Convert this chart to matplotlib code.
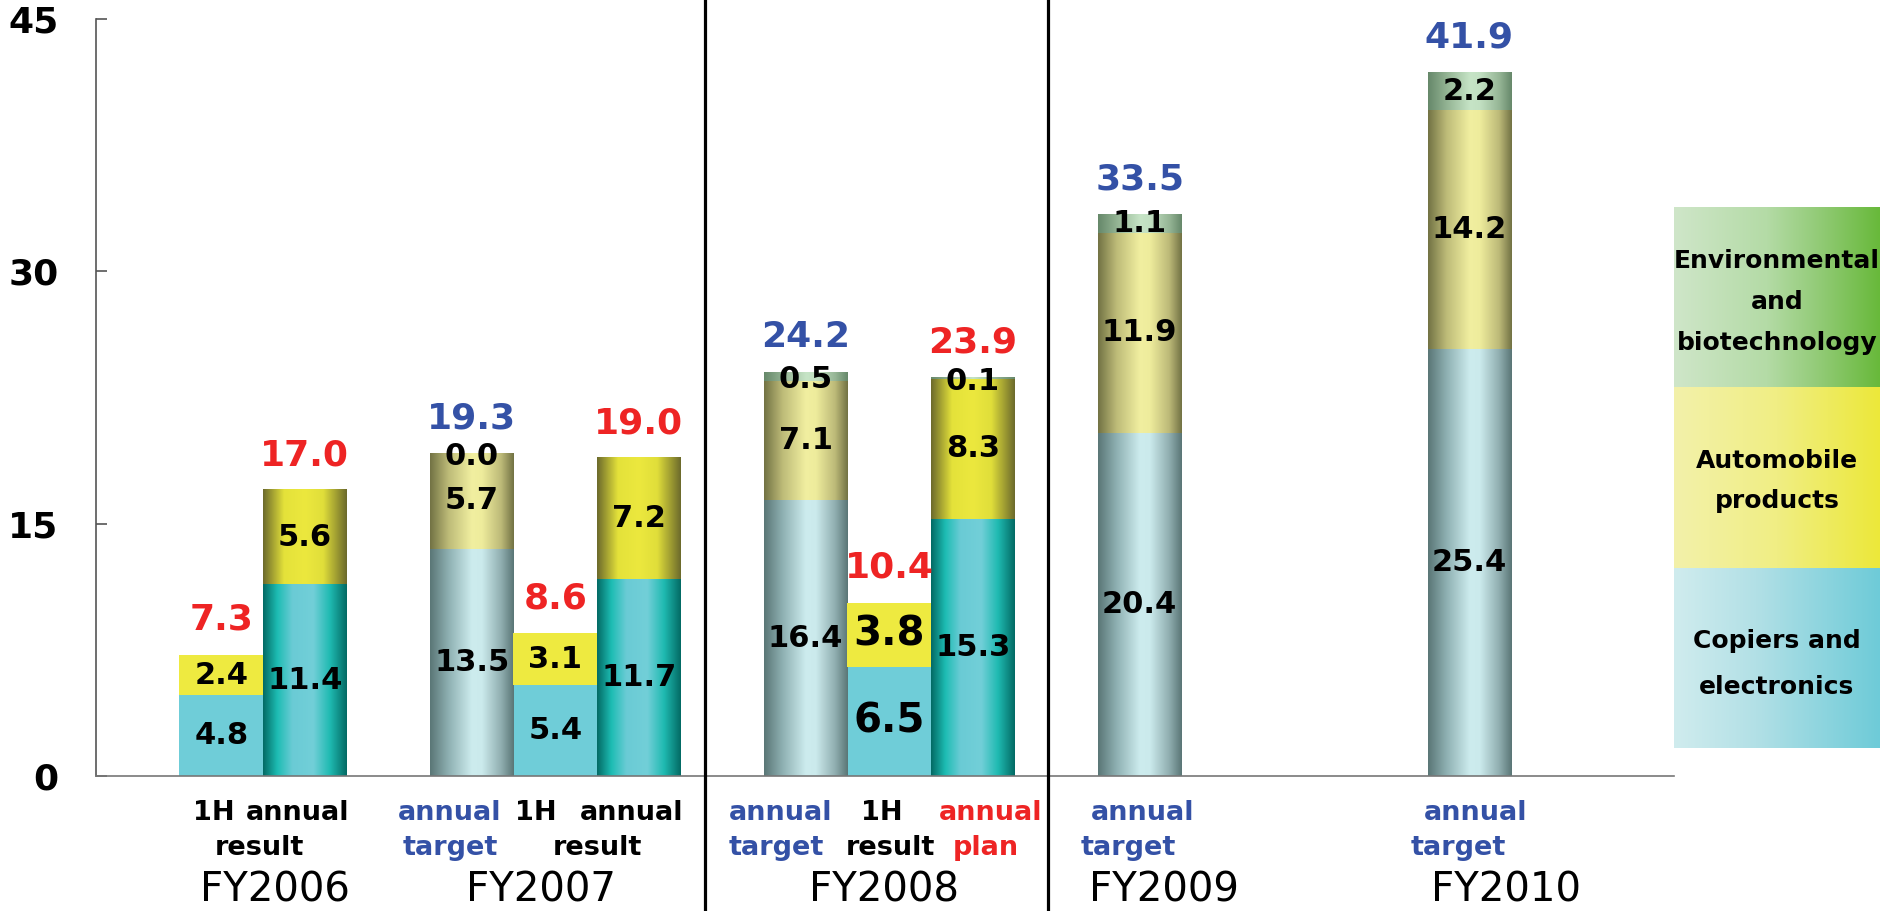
import numpy as np
import matplotlib
matplotlib.use("Agg")
import matplotlib.pyplot as plt
from matplotlib.colors import LinearSegmentedColormap
from matplotlib.transforms import blended_transform_factory

# Sales by business segment (billions of yen)
copiers = [4.8, 11.4, 13.5, 5.4, 11.7, 16.4, 6.5, 15.3, 20.4, 25.4]
automobile = [2.4, 5.6, 5.7, 3.1, 7.2, 7.1, 3.8, 8.3, 11.9, 14.2]
environment = [np.nan, np.nan, 0.0, np.nan, np.nan, 0.5, np.nan, 0.1, 1.1, 2.2]
totals = [7.3, 17.0, 19.3, 8.6, 19.0, 24.2, 10.4, 23.9, 33.5, 41.9]
kinds = ["1H", "result", "target", "1H", "result", "target", "1H", "plan", "target", "target"]
fiscal_years = ["FY2006", "FY2007", "FY2008", "FY2009", "FY2010"]
segment_names = [["Copiers and", "electronics"],
                 ["Automobile", "products"],
                 ["Environmental", "and", "biotechnology"]]
yticks = [0, 15, 30, 45]

# ---- layout -------------------------------------------------------------
W, H = 1882, 911
bar_x = [1.5, 2.5, 4.5, 5.5, 6.5, 8.5, 9.5, 10.5, 12.5, 16.45]
fy_x = [2.14, 5.33, 9.44, 12.79, 16.89]
separators = [7.3, 11.4]
BLUE = "#3451a6"
RED = "#ee2424"
BLACK = "#000000"
sub_labels = [
    ("1H", 1.41, 0, BLACK), ("annual", 2.42, 0, BLACK), ("result", 1.96, 1, BLACK),
    ("annual", 4.24, 0, BLUE), ("target", 4.24, 1, BLUE),
    ("1H", 5.27, 0, BLACK), ("annual", 6.42, 0, BLACK), ("result", 6.01, 1, BLACK),
    ("annual", 8.20, 0, BLUE), ("target", 8.15, 1, BLUE),
    ("1H", 9.41, 0, BLACK), ("result", 9.51, 1, BLACK),
    ("annual", 10.71, 0, RED), ("plan", 10.66, 1, RED),
    ("annual", 12.53, 0, BLUE), ("target", 12.37, 1, BLUE),
    ("annual", 16.53, 0, BLUE), ("target", 16.32, 1, BLUE),
]


def cyl(stops):
    return LinearSegmentedColormap.from_list("c", stops)


# horizontal gradients giving bars a cylindrical look
grad_maps = {
    ("target", 0): cyl([(0, "#5a7676"), (0.22, "#8eb0b2"), (0.5, "#cdecee"),
                        (0.62, "#cbeaec"), (0.85, "#90aeb0"), (1, "#5a7676")]),
    ("target", 1): cyl([(0, "#727244"), (0.22, "#bdbb78"), (0.5, "#f1efa0"),
                        (0.62, "#eeec9c"), (0.85, "#bcb978"), (1, "#727244")]),
    ("target", 2): cyl([(0, "#66886a"), (0.25, "#98b898"), (0.5, "#c6e4c6"),
                        (0.62, "#c2e0c2"), (0.85, "#96b696"), (1, "#66886a")]),
    ("result", 0): cyl([(0, "#036a64"), (0.17, "#1dbcb3"), (0.35, "#6acbd5"),
                        (0.6, "#72cfd8"), (0.8, "#1fbab1"), (1, "#036a64")]),
    ("result", 1): cyl([(0, "#6c6a2c"), (0.25, "#e4e23a"), (0.5, "#ece83e"),
                        (0.72, "#e0de3a"), (1, "#6c6a2c")]),
    ("result", 2): cyl([(0, "#66886a"), (0.5, "#c6e4c6"), (1, "#66886a")]),
}
grad_maps[("plan", 0)] = grad_maps[("result", 0)]
grad_maps[("plan", 1)] = grad_maps[("result", 1)]
grad_maps[("plan", 2)] = grad_maps[("result", 2)]
flat_colors = ["#6fcdd8", "#eeea40", "#c6e4c6"]

plt.rcParams["font.family"] = ["DejaVu Sans"]

fig = plt.figure(figsize=(W / 100, H / 100), dpi=100)
ax = fig.add_axes([96 / W, 135 / H, 1578 / W, 757 / H])

gradient = np.linspace(0, 1, 256).reshape(1, -1)
layers = [copiers, automobile, environment]
bottoms = np.zeros(len(bar_x))
for li, vals in enumerate(layers):
    v = np.array(vals, dtype=float)
    h = np.nan_to_num(v)
    bars = ax.bar(bar_x, h, bottom=bottoms, width=1.0, linewidth=0,
                  color=[flat_colors[li] if k == "1H" else "none" for k in kinds],
                  zorder=2)
    for i, patch in enumerate(bars.patches):
        if np.isnan(v[i]):
            continue
        if kinds[i] != "1H" and patch.get_height() > 0:
            x0, y0 = patch.get_x(), patch.get_y()
            ax.imshow(gradient, cmap=grad_maps[(kinds[i], li)], aspect="auto",
                      interpolation="bilinear", zorder=2,
                      extent=(x0, x0 + patch.get_width(), y0, y0 + patch.get_height()))
        ymid = patch.get_y() + patch.get_height() / 2
        if v[i] < 1:
            ymid -= 0.2
        big = kinds[i] == "1H" and i == 6
        ax.text(bar_x[i], ymid, f"{v[i]:.1f}", ha="center", va="center",
                fontsize=29 if big else 22, fontweight="bold", color="black", zorder=4)
    bottoms = bottoms + h

# totals above each stack
for i, t in enumerate(totals):
    ax.annotate(f"{t:.1f}", xy=(bar_x[i], bottoms[i]), xytext=(0, 18),
                textcoords="offset points", ha="center", va="baseline",
                fontsize=26, fontweight="bold",
                color=BLUE if kinds[i] == "target" else RED, zorder=4)

ax.set_xlim(0, 18.9)
ax.set_ylim(0, 45)
ax.set_xticks([])
ax.set_yticks(yticks)
ax.set_yticklabels([str(t) for t in yticks], fontsize=26, fontweight="bold")
ax.tick_params(axis="y", direction="in", length=8, width=1.2, color="#555555", pad=27)
for side in ("top", "right"):
    ax.spines[side].set_visible(False)
ax.spines["left"].set_color("#555555")
ax.spines["left"].set_linewidth(1.2)
ax.spines["bottom"].set_color("#777777")
ax.spines["bottom"].set_linewidth(1.2)

# dividers between fiscal-year groups, running the full figure height
trans = blended_transform_factory(ax.transData, fig.transFigure)
for sx in separators:
    ax.plot([sx, sx], [0, 1], transform=trans, color="black", lw=2.3,
            clip_on=False, zorder=5)

# category captions under the axis
row_y = [1 - 820 / H, 1 - 855 / H]
for text, x, row, col in sub_labels:
    ax.text(x, row_y[row], text, transform=trans, ha="center", va="baseline",
            fontsize=19.5, fontweight="bold", color=col)
for name, x in zip(fiscal_years, fy_x):
    ax.text(x, 1 / H, name, transform=trans, ha="center", va="bottom",
            fontsize=29, color="black")

# segment key on the right
lax = fig.add_axes([1674 / W, (H - 748) / H, 206 / W, 541 / H])
lax.axis("off")
key_maps = [
    cyl([(0, "#d0ecee"), (0.4, "#b2e0e6"), (1, "#6ecbd8")]),
    cyl([(0, "#f3f1aa"), (0.5, "#f0ee84"), (1, "#ece83a")]),
    cyl([(0, "#cfe6c9"), (0.45, "#b4dba6"), (0.75, "#8cc86e"), (1, "#68b93a")]),
]
for k, cm in enumerate(key_maps):
    lax.imshow(gradient, cmap=cm, aspect="auto", interpolation="bilinear",
               extent=(0, 1, k, k + 1))
lax.set_xlim(0, 1)
lax.set_ylim(0, 3)

key_baselines = [[648, 694], [468, 508], [268, 309, 350]]
for lines, ys in zip(segment_names, key_baselines):
    for line, yb in zip(lines, ys):
        fig.text(1777 / W, 1 - yb / H, line, ha="center", va="baseline",
                 fontsize=18, fontweight="bold", color="black")

fig.savefig("out.png", dpi=100)
